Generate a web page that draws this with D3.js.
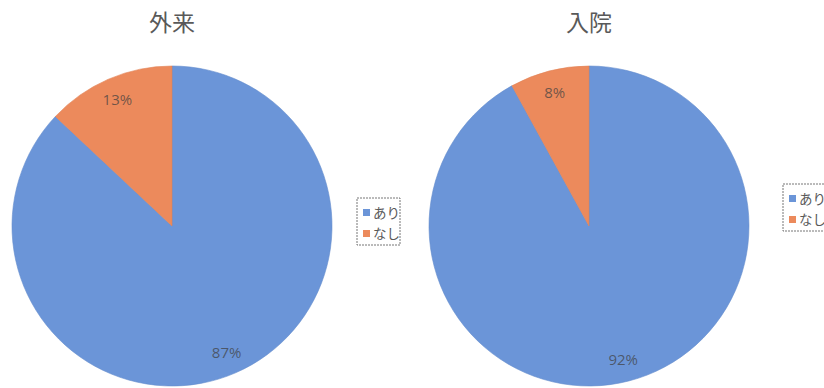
<!DOCTYPE html>
<html>
<head>
<meta charset="utf-8">
<script src="https://cdn.jsdelivr.net/npm/d3@7"></script>
<style>
  html, body { margin: 0; padding: 0; background: #fff; }
  svg { display: block; }
</style>
</head>
<body>
<svg id="chart" width="824" height="388"></svg>
<script>
// Categories and values for the two pies
const categories = ["あり", "なし"];
const outpatientValues = [87, 13];   // 外来
const inpatientValues = [92, 8];     // 入院
const chartTitles = ["外来", "入院"];
const colors = ["#6b95d8", "#ec8a5c"];

const svg = d3.select("#chart");
const color = d3.scaleOrdinal().domain(categories).range(colors);

const R = 160;
const panels = [
  { title: chartTitles[0], values: outpatientValues, cx: 172, cy: 226, legendX: 357, legendY: 198 },
  { title: chartTitles[1], values: inpatientValues, cx: 589, cy: 226, legendX: 783, legendY: 184 }
];

const pie = d3.pie().sort(null).value(d => d.value);
const arc = d3.arc().innerRadius(0).outerRadius(R);
const labelArc = d3.arc().innerRadius(R * 0.86).outerRadius(R * 0.86);

panels.forEach(p => {
  const data = categories.map((c, i) => ({ cat: c, value: p.values[i] }));
  const total = d3.sum(data, d => d.value);

  // title
  svg.append("text")
    .attr("x", p.cx)
    .attr("y", 31)
    .attr("text-anchor", "middle")
    .attr("font-family", "'Noto Sans CJK JP', sans-serif")
    .attr("font-size", 23)
    .attr("fill", "#595959")
    .text(p.title);

  const g = svg.append("g").attr("transform", `translate(${p.cx},${p.cy})`);
  const arcs = pie(data);

  g.selectAll("path.slice")
    .data(arcs)
    .join("path")
    .attr("class", "slice")
    .attr("d", arc)
    .attr("fill", d => color(d.data.cat))
    .attr("stroke", d => d3.color(color(d.data.cat)).darker(0.15))
    .attr("stroke-width", 0.6);

  g.selectAll("text.pct")
    .data(arcs)
    .join("text")
    .attr("class", "pct")
    .attr("transform", d => `translate(${labelArc.centroid(d)})`)
    .attr("text-anchor", "middle")
    .attr("dy", "0.35em")
    .attr("font-family", "'Open Sans', 'Liberation Sans', sans-serif")
    .attr("font-size", 15)
    .attr("fill", "#404040")
    .attr("fill-opacity", 0.72)
    .text(d => Math.round(d.data.value / total * 100) + "%");

  // legend
  const lg = svg.append("g").attr("transform", `translate(${p.legendX},${p.legendY})`);
  lg.append("rect")
    .attr("x", 0).attr("y", 0)
    .attr("width", 43).attr("height", 47)
    .attr("fill", "#fff")
    .attr("stroke", "#777")
    .attr("stroke-width", 1)
    .attr("stroke-dasharray", "2,1");
  const items = lg.selectAll("g.item")
    .data(categories)
    .join("g")
    .attr("class", "item")
    .attr("transform", (d, i) => `translate(6,${15 + i * 21})`);
  items.append("rect")
    .attr("x", 0).attr("y", -4)
    .attr("width", 7).attr("height", 7)
    .attr("fill", d => color(d));
  items.append("text")
    .attr("x", 10)
    .attr("y", 0)
    .attr("dy", "0.35em")
    .attr("font-family", "'Noto Sans CJK JP', sans-serif")
    .attr("font-size", 13.5)
    .attr("fill", "#595959")
    .text(d => d);
});
</script>
</body>
</html>
